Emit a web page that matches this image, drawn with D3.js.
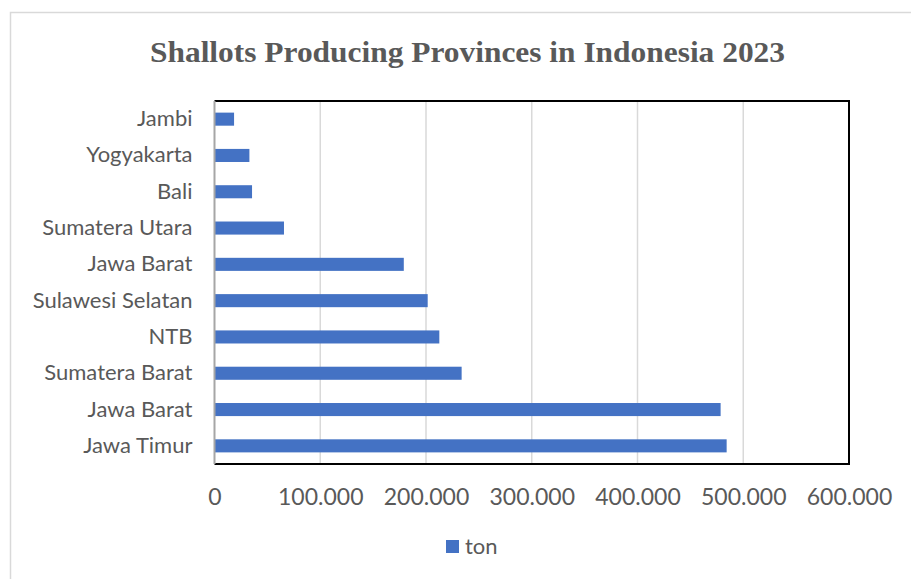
<!DOCTYPE html>
<html>
<head>
<meta charset="utf-8">
<script src="https://cdn.jsdelivr.net/npm/d3@7"></script>
<style>
  body { margin: 0; background: #fff; }
  svg { display: block; }
</style>
</head>
<body>
<div id="chart"></div>
<script>
const chart_width = 911;
const chart_height = 579;

// data (top to bottom)
const provinces = ['Jambi', 'Yogyakarta', 'Bali', 'Sumatera Utara', 'Jawa Barat',
                   'Sulawesi Selatan', 'NTB', 'Sumatera Barat', 'Jawa Barat', 'Jawa Timur'];
const tons = [18500, 33000, 35500, 65700, 179000, 201600, 212600, 233700, 478600, 484300];
const x_ticks = [0, 100000, 200000, 300000, 400000, 500000, 600000];
const series_name = 'ton';

const bar_color = '#4472c4';
const text_color = '#595959';
const label_font = 'Lato, "Open Sans", sans-serif';

let dataset = [];
for (let i = 0; i < provinces.length; i++) {
    dataset.push({ id: i, name: provinces[i], value: tons[i] });
}

const margin = { left: 214.5, right: 62, top: 101, bottom: 115 };

var svg = d3.select('#chart')
            .append('svg')
            .attr('width', chart_width)
            .attr('height', chart_height);

// outer chart frame
svg.append('rect')
    .attr('x', 10.5).attr('y', 12.5)
    .attr('width', 920).attr('height', 600)
    .attr('fill', 'none')
    .attr('stroke', '#d9d9d9')
    .attr('stroke-width', 1.5);

var xScale = d3.scaleLinear()
                .domain([0, 600000])
                .range([margin.left, chart_width - margin.right]);

var yScale = d3.scaleBand()
                .domain(dataset.map(function(d){ return d.id; }))
                .range([margin.top, chart_height - margin.bottom])
                .paddingInner(0.64)
                .paddingOuter(0.32);

// vertical gridlines
svg.append('g')
    .selectAll('.grid')
    .data(x_ticks.slice(1))
    .enter()
    .append('line')
    .attr('class', 'grid')
    .attr('x1', function(d){ return xScale(d); })
    .attr('x2', function(d){ return xScale(d); })
    .attr('y1', margin.top)
    .attr('y2', chart_height - margin.bottom)
    .attr('stroke', '#d9d9d9')
    .attr('stroke-width', 1.5);

// bars
svg.append('g')
    .selectAll('.bar')
    .data(dataset)
    .enter()
    .append('rect')
    .attr('class', 'bar')
    .attr('x', xScale(0))
    .attr('y', function(d){ return yScale(d.id); })
    .attr('width', function(d){ return xScale(d.value) - xScale(0); })
    .attr('height', yScale.bandwidth())
    .attr('fill', bar_color);

// plot frame: black top/right/bottom, gray left axis
const x0 = xScale(0), x1 = xScale(600000);
const y0 = margin.top, y1 = chart_height - margin.bottom;
svg.append('path')
    .attr('d', 'M' + x0 + ',' + y0 + 'H' + x1 + 'V' + y1 + 'H' + x0)
    .attr('fill', 'none')
    .attr('stroke', '#000')
    .attr('stroke-width', 2);
svg.append('line')
    .attr('x1', x0).attr('x2', x0)
    .attr('y1', y0).attr('y2', y1)
    .attr('stroke', '#a6a6a6')
    .attr('stroke-width', 2);

// category labels
var yAxis = svg.append('g')
    .attr('transform', 'translate(' + (x0 - 22) + ',0)')
    .call(d3.axisLeft(yScale)
            .tickSize(0)
            .tickFormat(function(d){ return provinces[d]; }));
yAxis.select('.domain').remove();
yAxis.selectAll('text')
    .attr('x', 0)
    .attr('fill', text_color)
    .style('font-family', label_font)
    .style('font-size', '22px');

// value axis labels
const fmt = function(d){ return d === 0 ? '0' : d3.format(',')(d).replace(/,/g, '.'); };
var xAxis = svg.append('g')
    .attr('transform', 'translate(0,' + (y1 + 22) + ')')
    .call(d3.axisBottom(xScale).tickValues(x_ticks).tickSize(0).tickFormat(fmt));
xAxis.select('.domain').remove();
xAxis.selectAll('text')
    .attr('fill', text_color)
    .style('font-family', label_font)
    .style('font-size', '23px');

// title
svg.append('text')
    .attr('x', 467.5)
    .attr('y', 62)
    .attr('text-anchor', 'middle')
    .attr('fill', text_color)
    .attr('textLength', 635)
    .attr('lengthAdjust', 'spacingAndGlyphs')
    .style('font-family', '"Liberation Serif", "DejaVu Serif", serif')
    .style('font-weight', 'bold')
    .style('font-size', '29px')
    .text('Shallots Producing Provinces in Indonesia 2023');

// legend
svg.append('rect')
    .attr('x', 446).attr('y', 540)
    .attr('width', 13).attr('height', 13)
    .attr('fill', bar_color);
svg.append('text')
    .attr('x', 465).attr('y', 554)
    .attr('fill', text_color)
    .style('font-family', label_font)
    .style('font-size', '22px')
    .text(series_name);
</script>
</body>
</html>
